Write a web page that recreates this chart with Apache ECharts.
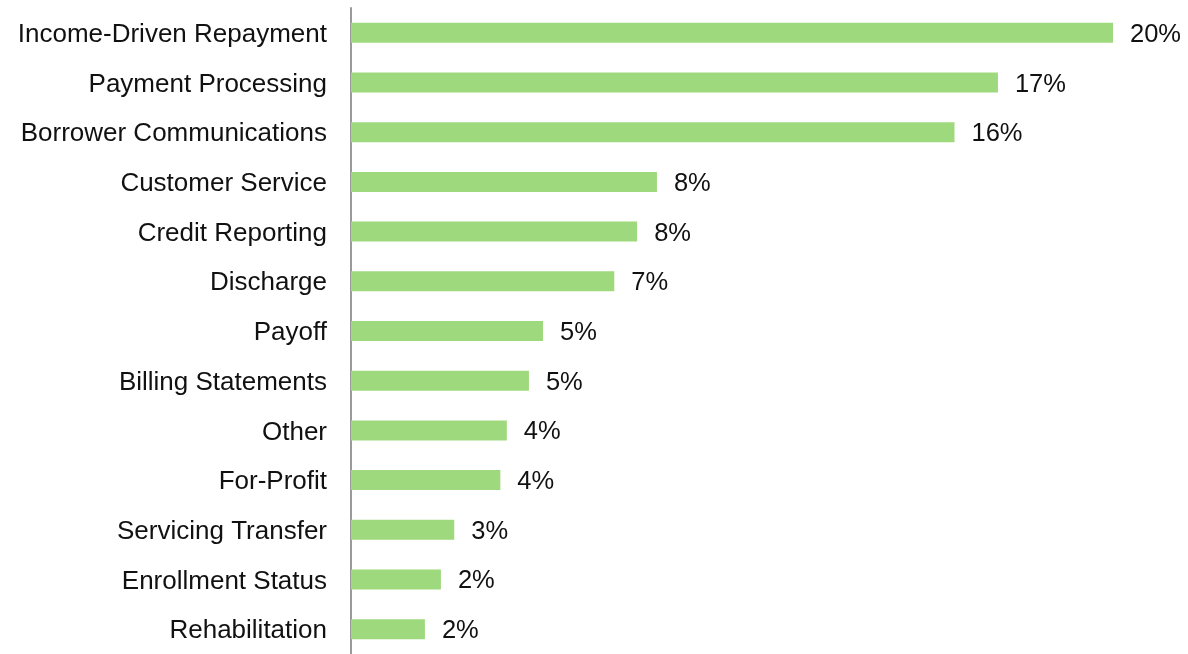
<!DOCTYPE html>
<html><head><meta charset="utf-8">
<script src="https://cdn.jsdelivr.net/npm/echarts@6/dist/echarts.min.js"></script>
<style>html,body{margin:0;padding:0;background:#fff}#c{width:1188px;height:654px}</style>
</head><body><div id="c"></div>
<script>
const categories = ["Income-Driven Repayment","Payment Processing","Borrower Communications","Customer Service","Credit Reporting","Discharge","Payoff","Billing Statements","Other","For-Profit","Servicing Transfer","Enrollment Status","Rehabilitation"];
const values = [20.0, 16.98, 15.84, 8.03, 7.51, 6.91, 5.04, 4.67, 4.09, 3.92, 2.71, 2.36, 1.94];

const chart = echarts.init(document.getElementById('c'), null, {renderer:'canvas'});
chart.setOption({
  animation:false,
  grid:{left:351, top:8, width:762, height:650},
  xAxis:{type:'value', min:0, max:20, show:false},
  yAxis:{type:'category', data:categories, inverse:true,
    axisLine:{show:true, lineStyle:{color:'#9a9a9a', width:2}},
    axisTick:{show:false},
    axisLabel:{margin:24, fontSize:26, color:'#111',
      fontFamily:'Liberation Sans, Arial, sans-serif',
      formatter:v=>'{a|'+v+'}',
      rich:{a:{fontSize:26, color:'#111', fontFamily:'Liberation Sans, Arial, sans-serif', padding:[4,0,0,0]}}}
  },
  series:[{type:'bar', data:values, barWidth:20,
    itemStyle:{color:'#9fd97d'},
    label:{show:true, position:'right', distance:17, fontSize:25.5, color:'#111',
      fontFamily:'Liberation Sans, Arial, sans-serif',
      offset:[0,2],
      formatter:p=>Math.round(p.value)+'%'}
  }]
});
</script></body></html>
